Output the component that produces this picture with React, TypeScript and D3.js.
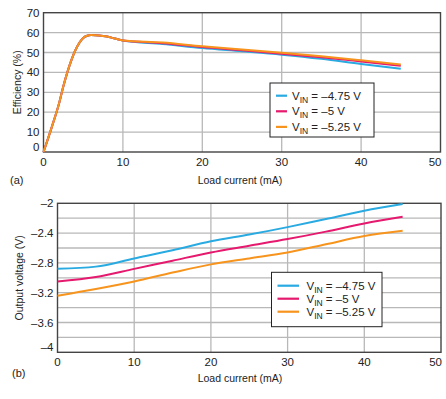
import { useEffect, useRef } from "react";
import * as d3 from "d3";

// (a) efficiency vs load current
const effX = [0, 1, 2, 2.5, 3, 4, 5, 5.5, 6, 7, 8, 9, 10, 15, 20, 25, 30, 35, 40, 45];
const effShared = [0, 12, 25, 33, 40, 51, 57.3, 58.4, 58.8, 58.6, 58, 57, 56];
const effBlue = [...effShared, 54.3, 52.2, 50.6, 48.9, 46.8, 44.2, 41.8];
const effPink = [...effShared, 54.7, 52.7, 51.1, 49.4, 47.6, 45.5, 43.3];
const effOrange = [...effShared, 55.0, 53.1, 51.5, 49.9, 48.1, 46.1, 44.0];

// (b) output voltage vs load current
const voutX = [0, 5, 10, 15, 20, 25, 30, 35, 40, 45];
const voutBlue = [-2.88, -2.85, -2.74, -2.63, -2.51, -2.42, -2.32, -2.21, -2.1, -2.01];
const voutPink = [-3.05, -2.99, -2.88, -2.77, -2.66, -2.57, -2.48, -2.38, -2.27, -2.18];
const voutOrange = [-3.24, -3.15, -3.05, -2.93, -2.82, -2.74, -2.66, -2.55, -2.44, -2.37];

const xTicks = [0, 10, 20, 30, 40, 50];
const effTicks = [0, 10, 20, 30, 40, 50, 60, 70];
const voutTicks = [-4, -3.6, -3.2, -2.8, -2.4, -2];
const voutGrid = d3.range(-3.8, -2.1, 0.2);

const legendLabels = ["= \u20134.75 V", "= \u20135 V", "= \u20135.25 V"];
const colors = ["#29aae1", "#e5196e", "#f7941d"];

const font = "'Liberation Sans', Arial, sans-serif";

export default function App() {
  const ref = useRef<SVGSVGElement | null>(null);

  useEffect(() => {
    const svg = d3.select(ref.current);
    svg.selectAll("*").remove();

    const drawPanel = (opts: any) => {
      const { left, right, top, bottom, yDomain, yTicks, yGrid, xs, series, yLabel, yLabelX, tag, tagPos, xLabelY, fmt, legend } = opts;
      const x = d3.scaleLinear().domain([0, 50]).range([left, right]);
      const y = d3.scaleLinear().domain(yDomain).range([bottom, top]);
      const g = svg.append("g");

      // grid
      g.selectAll(".vg")
        .data(xTicks.slice(1, -1))
        .join("line")
        .attr("x1", (d) => x(d))
        .attr("x2", (d) => x(d))
        .attr("y1", top)
        .attr("y2", bottom)
        .attr("stroke", "#b8b8b8")
        .attr("stroke-width", 1.3);
      g.selectAll(".hg")
        .data(yGrid)
        .join("line")
        .attr("x1", left)
        .attr("x2", right)
        .attr("y1", (d: number) => y(d))
        .attr("y2", (d: number) => y(d))
        .attr("stroke", "#b8b8b8")
        .attr("stroke-width", 1.3);

      // frame
      g.append("rect")
        .attr("x", left)
        .attr("y", top)
        .attr("width", right - left)
        .attr("height", bottom - top)
        .attr("fill", "none")
        .attr("stroke", "#444")
        .attr("stroke-width", 1.4);

      // tick labels (last one kept inside the page)
      g.selectAll(".xt")
        .data(xTicks)
        .join("text")
        .attr("x", (d) => (d === 50 ? x(d) + 1 : x(d)))
        .attr("y", bottom + 14)
        .attr("text-anchor", (d) => (d === 50 ? "end" : "middle"))
        .attr("font-size", 11.5)
        .attr("font-family", font)
        .attr("fill", "#222")
        .text((d) => d);
      g.selectAll(".yt")
        .data(yTicks)
        .join("text")
        .attr("x", left - 4)
        .attr("y", (d: number) => Math.min(y(d), bottom - 5) + 4)
        .attr("text-anchor", "end")
        .attr("font-size", 11.5)
        .attr("font-family", font)
        .attr("fill", "#222")
        .text((d: number) => fmt(d));

      // axis titles
      g.append("text")
        .attr("transform", `translate(${yLabelX},${(top + bottom) / 2}) rotate(-90)`)
        .attr("text-anchor", "middle")
        .attr("font-size", 10.5)
        .attr("font-family", font)
        .attr("fill", "#222")
        .text(yLabel);
      g.append("text")
        .attr("x", 240)
        .attr("y", xLabelY)
        .attr("text-anchor", "middle")
        .attr("font-size", 10.5)
        .attr("font-family", font)
        .attr("fill", "#222")
        .text("Load current (mA)");
      g.append("text")
        .attr("x", tagPos[0])
        .attr("y", tagPos[1])
        .attr("font-size", 11)
        .attr("font-family", font)
        .attr("fill", "#222")
        .text(tag);

      // curves
      const line = d3
        .line<[number, number]>()
        .x((d) => x(d[0]))
        .y((d) => y(d[1]))
        .curve(d3.curveMonotoneX);
      series.forEach((vals: number[], i: number) => {
        g.append("path")
          .attr("d", line(vals.map((v, j) => [xs[j], v] as [number, number])))
          .attr("fill", "none")
          .attr("stroke", colors[i])
          .attr("stroke-width", 2);
      });

      // legend
      const lg = g.append("g");
      lg.append("rect")
        .attr("x", legend.x)
        .attr("y", legend.y)
        .attr("width", legend.w)
        .attr("height", legend.h)
        .attr("fill", "#fff")
        .attr("stroke", "#222")
        .attr("stroke-width", 1);
      legendLabels.forEach((lab, i) => {
        const ly = legend.y + legend.first + i * legend.step;
        lg.append("line")
          .attr("x1", legend.x + 6)
          .attr("x2", legend.x + 6 + legend.lineW)
          .attr("y1", ly)
          .attr("y2", ly)
          .attr("stroke", colors[i])
          .attr("stroke-width", 2.2);
        const t = lg
          .append("text")
          .attr("x", legend.x + legend.textDx)
          .attr("y", ly + 4)
          .attr("font-size", 11.5)
          .attr("font-family", font)
          .attr("fill", "#222");
        t.append("tspan").text("V");
        t.append("tspan").attr("font-size", 8.5).attr("dy", 3).text("IN");
        t.append("tspan").attr("dy", -3).text(" " + lab);
      });
    };

    drawPanel({
      left: 43.5,
      right: 440.5,
      top: 12.7,
      bottom: 152,
      yDomain: [0, 70],
      yTicks: effTicks,
      yGrid: effTicks.slice(1, -1),
      xs: effX,
      series: [effBlue, effPink, effOrange],
      yLabel: "Efficiency (%)",
      yLabelX: 21,
      tag: "(a)",
      tagPos: [10, 184],
      xLabelY: 184,
      fmt: (d: number) => d,
      legend: { x: 270, y: 83, w: 104, h: 54, first: 12.7, step: 15.6, lineW: 11, textDx: 22 },
    });

    drawPanel({
      left: 57.5,
      right: 441,
      top: 203.3,
      bottom: 352.3,
      yDomain: [-4, -2],
      yTicks: voutTicks,
      yGrid: voutGrid,
      xs: voutX,
      series: [voutBlue, voutPink, voutOrange],
      yLabel: "Output voltage (V)",
      yLabelX: 23,
      tag: "(b)",
      tagPos: [12, 377],
      xLabelY: 382,
      fmt: (d: number) => (d === -4 || d === -2 ? `\u2013${Math.abs(d)}` : `\u2013${Math.abs(d).toFixed(1)}`),
      legend: { x: 271.5, y: 272.3, w: 110.5, h: 54.4, first: 13.4, step: 13, lineW: 21.5, textDx: 35 },
    });
  }, []);

  return (
    <svg
      ref={ref}
      width={446}
      height={399}
      style={{ position: "absolute", left: 0, top: 0, background: "#fff" }}
    />
  );
}
